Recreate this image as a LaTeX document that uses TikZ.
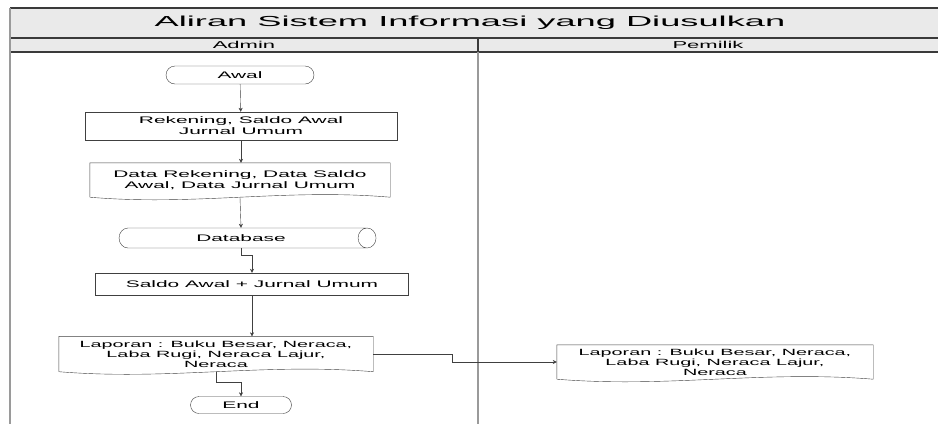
\documentclass[tikz,border=0pt]{standalone}
\usepackage{fontspec}
\setmainfont[FakeStretch=2.2]{Liberation Sans}
\newfontfamily\titlefont[FakeStretch=2.5]{Liberation Sans}
\usetikzlibrary{positioning, calc, shapes.geometric, shapes.misc, arrows.meta}
\definecolor{myframe}{HTML}{3A3A3A}
\definecolor{mygray}{HTML}{9A9A9A}
\definecolor{mylane}{HTML}{EAEAEA}
\definecolor{myline}{HTML}{404040}
\tikzset{
	flownode/.style={
			draw=myline,
			thin,
			align=center,
			inner sep=1pt,
			font=\fontsize{9.5}{11}\selectfont
		},
	termnode/.style={
			flownode,
			rounded rectangle,
			minimum height=18pt
		},
	procnode/.style={
			flownode,
			rectangle
		},
	docnode/.style={
			flownode,
			draw=none,
			rectangle
		},
	dbnode/.style={
			flownode,
			cylinder,
			shape aspect=2
		},
	lanenode/.style={
			inner sep=0pt,
			font=\fontsize{10}{11}\selectfont
		},
	titlenode/.style={
			inner sep=0pt,
			font=\titlefont\fontsize{14.5}{16}\selectfont
		},
	flowline/.style={
			myline,
			thin,
			-{Stealth[length=4pt,width=4pt]}
		}
}
% document shape with wavy bottom
\newcommand{\docshape}[1]{%
  \draw[myline, thin] (#1.south west) -- (#1.north west) -- (#1.north east) -- (#1.south east)
    .. controls ($(#1.south east)!0.35!(#1.south west)+(0,-9)$)
    and ($(#1.south east)!0.65!(#1.south west)+(0,9)$) .. (#1.south west);}

\begin{document}
\begin{tikzpicture}[x=1pt, y=-1pt]
\useasboundingbox (0,0) rectangle (938,424);

% swimlane frame
\fill[mylane] (10,8) rectangle (938,52);
\draw[myframe, line width=1.5pt] (10,8) -- (938,8);
\draw[myframe, line width=1.2pt] (10,38) -- (938,38);
\draw[myframe, line width=1.2pt] (10,52) -- (938,52);
\draw[mygray, line width=2pt] (10,8) -- (10,424);
\draw[myframe, line width=1.5pt] (478,38) -- (478,52);
\draw[mygray, line width=2pt] (478,52) -- (478,424);

\node[titlenode] (lTitle) at (470,23) {Aliran Sistem Informasi yang Diusulkan};
\node[lanenode] (lAdmin) at (244,45) {Admin};
\node[lanenode] (lPemilik) at (708,45) {Pemilik};

% admin
\node[termnode, minimum width=150pt] (fAwal) at (240,75) {Awal};
\node[procnode, minimum width=312pt, minimum height=28pt] (fRek) at (241,126) {Rekening, Saldo Awal\\Jurnal Umum};
\node[docnode, minimum width=300pt, minimum height=34pt] (fData) at (240,180) {Data Rekening, Data Saldo\\Awal, Data Jurnal Umum};
\docshape{fData}
\node[dbnode, minimum width=20pt, minimum height=257pt] (fDb) at (241,238) {Database};
\node[procnode, minimum width=313pt, minimum height=22pt] (fSaldo) at (252,284) {Saldo Awal + Jurnal Umum};
\node[docnode, minimum width=314pt, minimum height=35pt, font=\fontsize{9}{10}\selectfont] (fLap) at (216,354) {Laporan : Buku Besar, Neraca,\\Laba Rugi, Neraca Lajur,\\Neraca};
\docshape{fLap}
\node[termnode, minimum width=103pt, minimum height=17pt] (fEnd) at (241,405) {End};

% pemilik
\node[docnode, minimum width=316pt, minimum height=34pt, font=\fontsize{9}{10}\selectfont] (fPem) at (715,362) {Laporan : Buku Besar, Neraca,\\Laba Rugi, Neraca Lajur,\\Neraca};
\docshape{fPem}
\coordinate (cPem) at (452,0);

\draw[flowline] (fAwal) -- (fRek);
\draw[flowline] (fRek.south) -- (fRek.south |- fData.north);
\draw[flowline] (fData.south) -- (fDb.north);
\draw[flowline] (fDb.south) -- ++(0,7) -| (fSaldo.north);
\draw[flowline] (fSaldo.south) -- (fSaldo.south |- fLap.north);
\draw[flowline] (fLap.south) -- ++(0,10) -| (fEnd.north);
\draw[flowline] (fLap.east) -| (cPem |- fPem.west) -- (fPem.west);

\end{tikzpicture}
\end{document}
